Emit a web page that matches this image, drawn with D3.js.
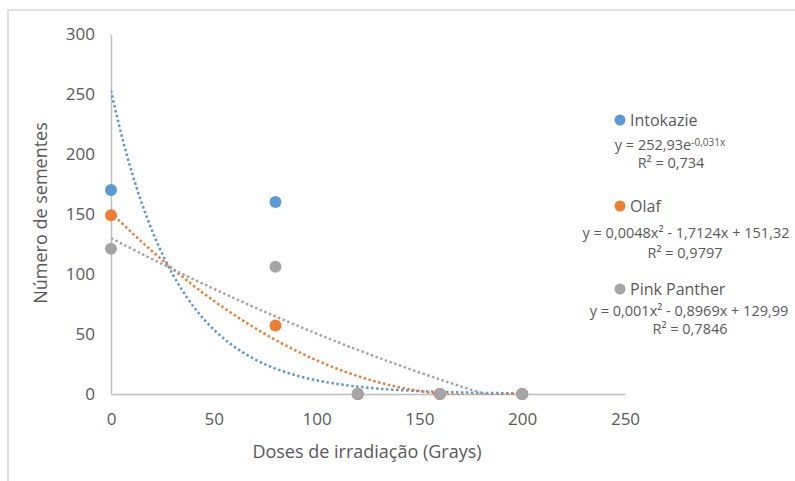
<!DOCTYPE html>
<html>
<head>
<meta charset="utf-8">
<script src="https://cdn.jsdelivr.net/npm/d3@7"></script>
<style>
  body { margin: 0; background: #fff; }
  svg { font-family: 'Open Sans', sans-serif; }
</style>
</head>
<body>
<svg width="795" height="481"></svg>
<script>
// values
const doses = [0, 80, 120, 160, 200]
const seriesNames = ['Intokazie', 'Olaf', 'Pink Panther']
const intokazie = [170, 160, 0, 0, 0]
const olaf = [149, 57, 0, 0, 0]
const pinkPanther = [121, 106, 0, 0, 0]
const colors = ['#5b9bd5', '#ed7d31', '#a5a5a5']
const xTicks = [0, 50, 100, 150, 200, 250]
const yTicks = [0, 50, 100, 150, 200, 250, 300]

// trendline coefficients as printed on the chart
const expFit = [252.93, -0.031]            // a * e^(b x)
const olafFit = [0.0048, -1.7124, 151.32]  // a x^2 + b x + c
const pinkFit = [0.001, -0.8969, 129.99]
const equations = [
	['y = 252,93e', '-0,031x'],
	['y = 0,0048x² - 1,7124x + 151,32'],
	['y = 0,001x² - 0,8969x + 129,99']
]
const r2Labels = ['R² = 0,734', 'R² = 0,9797', 'R² = 0,7846']

const allSeries = [intokazie, olaf, pinkPanther]
const trendFns = [
	x => expFit[0] * Math.exp(expFit[1] * x),
	x => olafFit[0] * x * x + olafFit[1] * x + olafFit[2],
	x => pinkFit[0] * x * x + pinkFit[1] * x + pinkFit[2]
]

const svg = d3.select('svg')
const textColor = '#595959'
const axisColor = '#bfbfbf'

// outer frame
svg.append('rect')
	.attr('x', 8).attr('y', 10)
	.attr('width', 820).attr('height', 500)
	.attr('fill', 'none')
	.attr('stroke', '#d9d9d9')
	.attr('stroke-width', 1.5)

const x = d3.scaleLinear().domain([0, 250]).range([111, 625])
const y = d3.scaleLinear().domain([0, 300]).range([394, 34])

// axes
const xAxis = svg.append('g')
	.attr('transform', `translate(0, ${y(0)})`)
	.call(d3.axisBottom(x).tickValues(xTicks).tickSize(0).tickPadding(19))
const yAxis = svg.append('g')
	.attr('transform', `translate(${x(0)}, 0)`)
	.call(d3.axisLeft(y).tickValues(yTicks).tickSize(0).tickPadding(16))

for (const ax of [xAxis, yAxis]) {
	ax.select('.domain').attr('stroke', axisColor).attr('stroke-width', 1.5)
	ax.selectAll('text')
		.attr('fill', textColor)
		.attr('font-size', '17px')
		.attr('font-family', "'Open Sans', sans-serif")
}

// axis titles
svg.append('text')
	.attr('x', 367).attr('y', 458)
	.attr('text-anchor', 'middle')
	.attr('font-size', '18px')
	.attr('fill', textColor)
	.text('Doses de irradiação (Grays)')

svg.append('text')
	.attr('transform', `translate(47, 213) rotate(-90)`)
	.attr('text-anchor', 'middle')
	.attr('font-size', '18px')
	.attr('fill', textColor)
	.text('Número de sementes')

// clip for trendlines
svg.append('clipPath').attr('id', 'plot')
	.append('rect')
	.attr('x', x(0)).attr('y', y(300))
	.attr('width', x(250) - x(0)).attr('height', y(0) - y(300) + 1)

const line = d3.line().x(d => x(d[0])).y(d => y(d[1]))

const trendG = svg.append('g').attr('clip-path', 'url(#plot)')
trendFns.forEach((fn, i) => {
	const pts = d3.range(0, 200.5, 1).map(v => [v, fn(v)])
	trendG.append('path')
		.attr('d', line(pts))
		.attr('fill', 'none')
		.attr('stroke', colors[i])
		.attr('stroke-width', 2.5)
		.attr('stroke-dasharray', '2.5 2.5')
})

// markers
allSeries.forEach((vals, i) => {
	svg.append('g')
		.selectAll('circle')
		.data(vals.map((v, j) => [doses[j], v]))
		.join('circle')
		.attr('cx', d => x(d[0]))
		.attr('cy', d => y(d[1]))
		.attr('r', 6)
		.attr('fill', colors[i])
})

// legend with trendline labels
const legendY = [120, 206, 289]
const eqY = [145, 233, 311]
const r2Y = [163, 253, 329]
const eqX = [670, 686, 689]
const r2X = [671, 685, 690]

seriesNames.forEach((name, i) => {
	const g = svg.append('g')
	g.append('circle')
		.attr('cx', 620).attr('cy', legendY[i])
		.attr('r', 5.5)
		.attr('fill', colors[i])
	g.append('text')
		.attr('x', 630).attr('y', legendY[i])
		.attr('dy', '0.35em')
		.attr('font-size', '16px')
		.attr('fill', textColor)
		.text(name)

	const eq = g.append('text')
		.attr('x', eqX[i]).attr('y', eqY[i])
		.attr('dy', '0.35em')
		.attr('text-anchor', 'middle')
		.attr('font-size', '14.5px')
		.attr('fill', textColor)
	eq.append('tspan').text(equations[i][0])
	if (equations[i][1]) {
		eq.append('tspan')
			.attr('dy', '-0.45em')
			.attr('font-size', '10px')
			.text(equations[i][1])
	}

	g.append('text')
		.attr('x', r2X[i]).attr('y', r2Y[i])
		.attr('dy', '0.35em')
		.attr('text-anchor', 'middle')
		.attr('font-size', '14.5px')
		.attr('fill', textColor)
		.text(r2Labels[i])
})
</script>
</body>
</html>
